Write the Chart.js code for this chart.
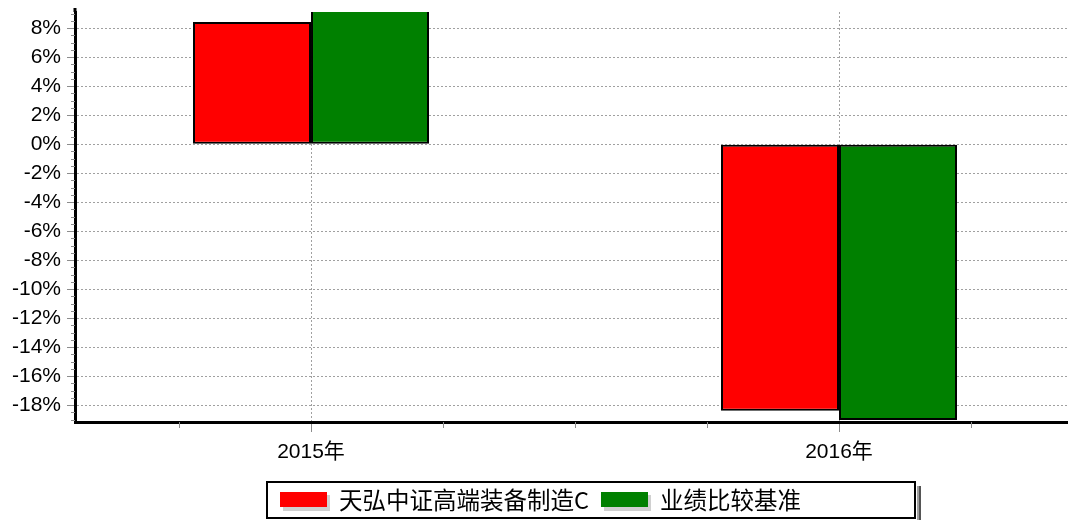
<!DOCTYPE html>
<html>
<head>
<meta charset="utf-8">
<script src="https://cdn.jsdelivr.net/npm/chart.js@4"></script>
<style>
html,body{margin:0;padding:0;background:#fff;}
#wrap{width:1068px;height:520px;position:relative;}
</style>
</head>
<body>
<div id="wrap"><canvas id="c" width="1068" height="520"></canvas></div>
<script>
// ---- data ----
const categories = ['2015年', '2016年'];
const seriesNames = ['天弘中证高端装备制造C', '业绩比较基准'];
const fundReturns = [8.43, -18.39];
const benchmarkReturns = [9.6, -19.03];
const yTickValues = [-18, -16, -14, -12, -10, -8, -6, -4, -2, 0, 2, 4, 6, 8];
const seriesColors = ['#ff0000', '#008000'];

const FONT = "'Liberation Sans', Arial, 'Noto Sans CJK SC', sans-serif";
Chart.defaults.font.family = FONT;

const toPoints = vals => categories.map((c, i) => ({ x: i, y: vals[i] }));

const decor = {
  id: 'decor',
  beforeDatasetsDraw(chart) {
    const { ctx, chartArea: a, scales: { x, y } } = chart;
    ctx.save();
    ctx.strokeStyle = '#8c8c8c';
    ctx.lineWidth = 1;
    // y minor ticks every 0.5
    const yStart = Math.ceil(y.min * 2) / 2;
    for (let v = yStart; v <= y.max + 1e-9; v += 0.5) {
      if (Math.abs(v / 2 - Math.round(v / 2)) < 1e-9) continue;
      const py = Math.round(y.getPixelForValue(v)) + 0.5;
      ctx.beginPath(); ctx.moveTo(a.left - 4, py); ctx.lineTo(a.left, py); ctx.stroke();
    }
    // x minor ticks every 0.25
    const xStart = Math.ceil(x.min * 4) / 4;
    for (let v = xStart; v <= x.max + 1e-9; v += 0.25) {
      if (Math.abs(v - Math.round(v)) < 1e-9) continue;
      const px = Math.round(x.getPixelForValue(v)) + 0.5;
      ctx.beginPath(); ctx.moveTo(px, a.bottom); ctx.lineTo(px, a.bottom + 6); ctx.stroke();
    }
    // y axis line extends slightly above plot
    ctx.strokeStyle = '#000';
    ctx.lineWidth = 3;
    ctx.beginPath(); ctx.moveTo(a.left, a.top - 4); ctx.lineTo(a.left, a.top); ctx.stroke();
    ctx.restore();
  },
  afterDraw(chart) {
    const { ctx } = chart;
    const bx = 267, by = 482, bw = 648, bh = 36;
    ctx.save();
    // shadow
    ctx.fillStyle = '#a0a0a0';
    ctx.fillRect(bx + bw + 2, by + 4, 2, bh);
    ctx.fillStyle = '#555';
    ctx.fillRect(bx + bw + 4, by + 4, 2, bh);
    ctx.fillStyle = '#a0a0a0';
    ctx.fillRect(bx + 4, by + bh + 2, bw, 4);
    // box
    ctx.fillStyle = '#fff';
    ctx.fillRect(bx, by, bw, bh);
    ctx.strokeStyle = '#000';
    ctx.lineWidth = 2;
    ctx.strokeRect(bx, by, bw, bh);
    ctx.font = "23.5px 'Noto Sans CJK SC', " + FONT;
    ctx.textBaseline = 'middle';
    ctx.textAlign = 'left';
    let cx = 280;
    chart.data.datasets.forEach((ds, i) => {
      ctx.fillStyle = '#d0d0d0';
      ctx.fillRect(cx + 3, 495, 47, 16);
      ctx.fillStyle = ds.backgroundColor;
      ctx.fillRect(cx, 492, 47, 15);
      ctx.fillStyle = '#000';
      ctx.fillText(ds.label, cx + 59, 500);
      cx = cx + 59 + ctx.measureText(ds.label).width + 12;
    });
    ctx.restore();
  }
};

new Chart(document.getElementById('c'), {
  type: 'bar',
  data: {
    datasets: [
      { label: seriesNames[0], data: toPoints(fundReturns), backgroundColor: seriesColors[0],
        borderColor: '#000', borderWidth: 2, borderSkipped: false },
      { label: seriesNames[1], data: toPoints(benchmarkReturns), backgroundColor: seriesColors[1],
        borderColor: '#000', borderWidth: 2, borderSkipped: false }
    ]
  },
  options: {
    responsive: false,
    devicePixelRatio: 1,
    animation: false,
    layout: { padding: { top: 12, left: 0, right: 0, bottom: 0 } },
    categoryPercentage: 236 / 528,
    barPercentage: 1,
    plugins: { legend: { display: false }, tooltip: { enabled: false } },
    scales: {
      x: {
        type: 'linear',
        min: -0.447,
        max: 1.4337,
        offset: false,
        afterBuildTicks: s => { s.ticks = categories.map((c, i) => ({ value: i })); },
        afterFit: s => { s.height = 98; s.paddingLeft = 0; s.paddingRight = 0; },
        ticks: {
          callback: v => categories[v],
          font: { size: 21 },
          color: '#000',
          padding: 8,
          maxRotation: 0,
          autoSkip: false
        },
        grid: { offset: false, color: '#a0a0a0', lineWidth: 1, tickLength: 10, tickColor: '#8c8c8c' },
        border: { display: true, color: '#000', width: 3, dash: [2, 2] }
      },
      y: {
        min: -19.17,
        max: 9.12,
        afterBuildTicks: s => { s.ticks = yTickValues.map(v => ({ value: v })); },
        afterFit: s => { s.width = 75; s.paddingTop = 0; s.paddingBottom = 0; },
        ticks: {
          callback: v => v + '%',
          font: { size: 21 },
          color: '#000',
          padding: 6,
          autoSkip: false
        },
        grid: { color: '#a0a0a0', lineWidth: 1, tickLength: 8, tickColor: '#8c8c8c' },
        border: { display: true, color: '#000', width: 3, dash: [2, 2] }
      }
    }
  },
  plugins: [decor]
});
</script>
</body>
</html>
